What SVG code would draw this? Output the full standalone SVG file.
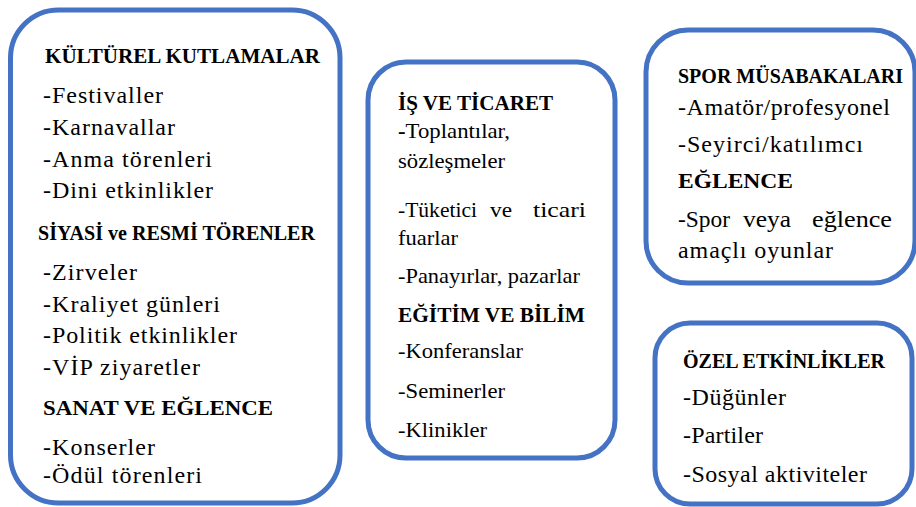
<svg xmlns="http://www.w3.org/2000/svg" width="916" height="507" viewBox="0 0 916 507">
<defs>
<style>
.box{fill:#ffffff;stroke:#4472C4;stroke-width:5}
</style>
</defs>
<rect width="916" height="507" fill="#ffffff"/>
<g id="node-kulturel">
<rect class="box" x="10.5" y="10" width="329.5" height="493" rx="48"/>
<text style="font-family:'Liberation Serif',serif !important" font-size="21" font-weight="bold" x="45" y="63" textLength="275" lengthAdjust="spacingAndGlyphs">KÜLTÜREL KUTLAMALAR</text>
<text style="font-family:'Liberation Serif',serif !important" font-size="24" x="43" y="103" textLength="120" lengthAdjust="spacing">-Festivaller</text>
<text style="font-family:'Liberation Serif',serif !important" font-size="24" x="43" y="135" textLength="132" lengthAdjust="spacing">-Karnavallar</text>
<text style="font-family:'Liberation Serif',serif !important" font-size="24" x="43" y="167" textLength="169" lengthAdjust="spacing">-Anma törenleri</text>
<text style="font-family:'Liberation Serif',serif !important" font-size="24" x="43" y="198" textLength="170" lengthAdjust="spacing">-Dini etkinlikler</text>
<text style="font-family:'Liberation Serif',serif !important" font-size="21" font-weight="bold" x="38" y="240" textLength="277" lengthAdjust="spacingAndGlyphs">SİYASİ ve RESMİ TÖRENLER</text>
<text style="font-family:'Liberation Serif',serif !important" font-size="24" x="43" y="280" textLength="94" lengthAdjust="spacing">-Zirveler</text>
<text style="font-family:'Liberation Serif',serif !important" font-size="24" x="43" y="312" textLength="177" lengthAdjust="spacing">-Kraliyet günleri</text>
<text style="font-family:'Liberation Serif',serif !important" font-size="24" x="43" y="343" textLength="194" lengthAdjust="spacing">-Politik etkinlikler</text>
<text style="font-family:'Liberation Serif',serif !important" font-size="24" x="43" y="375" textLength="157" lengthAdjust="spacing">-VİP ziyaretler</text>
<text style="font-family:'Liberation Serif',serif !important" font-size="21" font-weight="bold" x="43" y="415" textLength="230" lengthAdjust="spacingAndGlyphs">SANAT VE EĞLENCE</text>
<text style="font-family:'Liberation Serif',serif !important" font-size="24" x="43" y="455" textLength="112" lengthAdjust="spacing">-Konserler</text>
<text style="font-family:'Liberation Serif',serif !important" font-size="24" x="43" y="483" textLength="159" lengthAdjust="spacing">-Ödül törenleri</text>
</g>
<g id="node-is">
<rect class="box" x="368" y="62" width="247" height="396" rx="38"/>
<text style="font-family:'Liberation Serif',serif !important" font-size="21" font-weight="bold" x="398" y="110" textLength="155" lengthAdjust="spacingAndGlyphs">İŞ VE TİCARET</text>
<text style="font-family:'Liberation Serif',serif !important" font-size="22" x="398" y="138" textLength="112" lengthAdjust="spacingAndGlyphs"><tspan font-weight="bold">-</tspan>Toplantılar,</text>
<text style="font-family:'Liberation Serif',serif !important" font-size="22" x="398" y="168" textLength="107" lengthAdjust="spacingAndGlyphs">sözleşmeler</text>
<text style="font-family:'Liberation Serif',serif !important" font-size="22" x="398" y="217" textLength="79" lengthAdjust="spacingAndGlyphs">-Tüketici</text>
<text style="font-family:'Liberation Serif',serif !important" font-size="22" x="490" y="217" textLength="22" lengthAdjust="spacingAndGlyphs">ve</text>
<text style="font-family:'Liberation Serif',serif !important" font-size="22" x="533" y="217" textLength="53" lengthAdjust="spacingAndGlyphs">ticari</text>
<text style="font-family:'Liberation Serif',serif !important" font-size="22" x="398" y="245" textLength="60" lengthAdjust="spacingAndGlyphs">fuarlar</text>
<text style="font-family:'Liberation Serif',serif !important" font-size="22" x="398" y="283" textLength="182" lengthAdjust="spacingAndGlyphs">-Panayırlar, pazarlar</text>
<text style="font-family:'Liberation Serif',serif !important" font-size="21" font-weight="bold" x="398" y="322" textLength="187" lengthAdjust="spacingAndGlyphs">EĞİTİM VE BİLİM</text>
<text style="font-family:'Liberation Serif',serif !important" font-size="22" x="398" y="358" textLength="125" lengthAdjust="spacingAndGlyphs">-Konferanslar</text>
<text style="font-family:'Liberation Serif',serif !important" font-size="22" x="398" y="398" textLength="107" lengthAdjust="spacingAndGlyphs">-Seminerler</text>
<text style="font-family:'Liberation Serif',serif !important" font-size="22" x="398" y="437" textLength="89" lengthAdjust="spacingAndGlyphs">-Klinikler</text>
</g>
<g id="node-spor">
<rect class="box" x="646" y="30" width="269" height="253" rx="42"/>
<text style="font-family:'Liberation Serif',serif !important" font-size="21" font-weight="bold" x="678" y="83" textLength="225" lengthAdjust="spacingAndGlyphs">SPOR MÜSABAKALARI</text>
<text style="font-family:'Liberation Serif',serif !important" font-size="24" x="678" y="115" textLength="212" lengthAdjust="spacing">-Amatör/profesyonel</text>
<text style="font-family:'Liberation Serif',serif !important" font-size="24" x="678" y="152" textLength="185" lengthAdjust="spacing">-Seyirci/katılımcı</text>
<text style="font-family:'Liberation Serif',serif !important" font-size="21" font-weight="bold" x="678" y="188" textLength="115" lengthAdjust="spacingAndGlyphs">EĞLENCE</text>
<text style="font-family:'Liberation Serif',serif !important" font-size="24" x="678" y="227" textLength="52" lengthAdjust="spacingAndGlyphs">-Spor</text>
<text style="font-family:'Liberation Serif',serif !important" font-size="24" x="743" y="227" textLength="48" lengthAdjust="spacingAndGlyphs">veya</text>
<text style="font-family:'Liberation Serif',serif !important" font-size="24" x="812" y="227" textLength="80" lengthAdjust="spacingAndGlyphs">eğlence</text>
<text style="font-family:'Liberation Serif',serif !important" font-size="24" x="678" y="258" textLength="155" lengthAdjust="spacing">amaçlı oyunlar</text>
</g>
<g id="node-ozel">
<rect class="box" x="655" y="323" width="257" height="181" rx="35"/>
<text style="font-family:'Liberation Serif',serif !important" font-size="21" font-weight="bold" x="683" y="368" textLength="202" lengthAdjust="spacingAndGlyphs">ÖZEL ETKİNLİKLER</text>
<text style="font-family:'Liberation Serif',serif !important" font-size="24" x="683" y="405" textLength="103" lengthAdjust="spacing">-Düğünler</text>
<text style="font-family:'Liberation Serif',serif !important" font-size="24" x="683" y="443" textLength="80" lengthAdjust="spacing">-Partiler</text>
<text style="font-family:'Liberation Serif',serif !important" font-size="24" x="683" y="482" textLength="184" lengthAdjust="spacing">-Sosyal aktiviteler</text>
</g>
<g id="connectors"></g>
</svg>
